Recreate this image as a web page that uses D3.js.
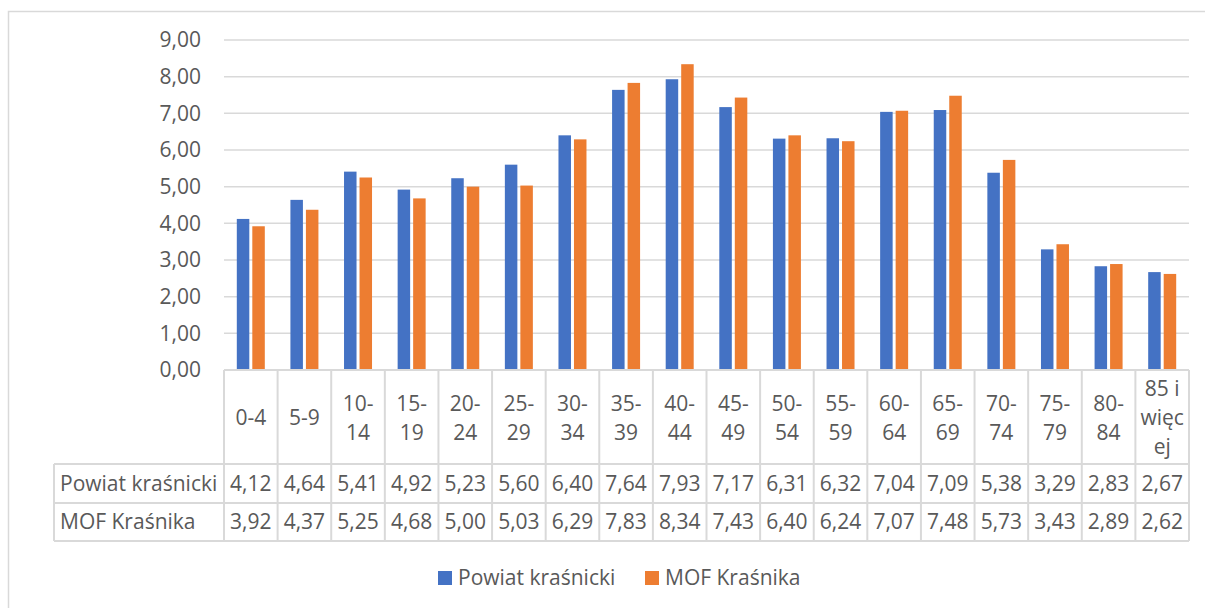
<!DOCTYPE html>
<html>
<head>
<meta charset="utf-8">
<script src="https://cdn.jsdelivr.net/npm/d3@7"></script>
<style>
  body { margin: 0; background: #fff; }
  text { font-family: "Open Sans", "Noto Sans", sans-serif; fill: #595959; }
</style>
</head>
<body>
<div id="chart"></div>
<script>
// Width and height
var chart_width  = 1205;
var chart_height = 608;

// Data
var categories = ['0-4','5-9','10-14','15-19','20-24','25-29','30-34','35-39','40-44',
                  '45-49','50-54','55-59','60-64','65-69','70-74','75-79','80-84','85 i więcej'];
var powiat = [4.12,4.64,5.41,4.92,5.23,5.60,6.40,7.64,7.93,7.17,6.31,6.32,7.04,7.09,5.38,3.29,2.83,2.67];
var mof    = [3.92,4.37,5.25,4.68,5.00,5.03,6.29,7.83,8.34,7.43,6.40,6.24,7.07,7.48,5.73,3.43,2.89,2.62];
var series_names = ['Powiat kraśnicki', 'MOF Kraśnika'];
var y_ticks = [0,1,2,3,4,5,6,7,8,9];

var colors = ['#4472C4', '#ED7D31'];
var grid_color = '#D9D9D9';

var plot = {left: 224, right: 1189, top: 40, bottom: 370};
var row_h = [94, 39, 38];   // header, row 1, row 2
var label_left = 54;

var fmt = function(v){ return d3.format('.2f')(v).replace('.', ','); };

var x = d3.scaleBand()
    .domain(categories)
    .range([plot.left, plot.right]);

var y = d3.scaleLinear()
    .domain([0, 9])
    .range([plot.bottom, plot.top]);

// Create SVG
var svg = d3.select('#chart')
    .append('svg')
    .attr('width', chart_width)
    .attr('height', chart_height);

// chart border
svg.append('rect')
    .attr('x', 8.5).attr('y', 11.5)
    .attr('width', 1220).attr('height', 620)
    .attr('fill', 'none')
    .attr('stroke', grid_color)
    .attr('stroke-width', 1.5);

// gridlines
svg.selectAll('line.grid')
    .data(y_ticks.filter(function(d){ return d > 0; }))
    .enter()
    .append('line')
    .attr('class', 'grid')
    .attr('x1', plot.left).attr('x2', plot.right)
    .attr('y1', function(d){ return y(d); })
    .attr('y2', function(d){ return y(d); })
    .attr('stroke', grid_color)
    .attr('stroke-width', 1.5);

// y labels
svg.selectAll('text.ytick')
    .data(y_ticks)
    .enter()
    .append('text')
    .attr('class', 'ytick')
    .attr('x', 201)
    .attr('y', function(d){ return y(d); })
    .attr('dy', '0.35em')
    .attr('text-anchor', 'end')
    .style('font-size', '21px')
    .text(fmt);

// bars
var bar_w = 12.5;
var all_series = [powiat, mof];
all_series.forEach(function(vals, si){
    svg.append('g')
        .selectAll('rect')
        .data(vals)
        .enter()
        .append('rect')
        .attr('x', function(d, i){
            var c = x(categories[i]) + x.bandwidth() / 2;
            return si === 0 ? c - 14 : c + 1.5;
        })
        .attr('y', function(d){ return y(d); })
        .attr('width', bar_w)
        .attr('height', function(d){ return y(0) - y(d); })
        .attr('fill', colors[si]);
});

// data table
var t0 = plot.bottom;
var t1 = t0 + row_h[0];
var t2 = t1 + row_h[1];
var t3 = t2 + row_h[2];

var table = svg.append('g');
var hl = [[plot.left, t0], [label_left, t1], [label_left, t2], [label_left, t3]];
hl.forEach(function(h){
    table.append('line')
        .attr('x1', h[0]).attr('x2', plot.right)
        .attr('y1', h[1]).attr('y2', h[1])
        .attr('stroke', grid_color).attr('stroke-width', 2);
});
var col_edges = categories.map(function(c){ return x(c); }).concat([plot.right]);
table.selectAll('line.v')
    .data(col_edges)
    .enter()
    .append('line')
    .attr('x1', function(d){ return d; })
    .attr('x2', function(d){ return d; })
    .attr('y1', t0).attr('y2', t3)
    .attr('stroke', grid_color).attr('stroke-width', 2);
table.append('line')
    .attr('x1', label_left).attr('x2', label_left)
    .attr('y1', t1).attr('y2', t3)
    .attr('stroke', grid_color).attr('stroke-width', 2);

// header labels, wrapped to the cell width
var max_w = x.bandwidth() - 6;
var header = table.selectAll('text.head')
    .data(categories)
    .enter()
    .append('text')
    .attr('class', 'head')
    .attr('text-anchor', 'middle')
    .style('font-size', '21px');

header.each(function(d){
    var node = d3.select(this);
    var measure = function(s){
        node.text(s);
        return node.node().getComputedTextLength();
    };
    var tokens = d.match(/[^ -]+[ -]?/g);
    var lines = [];
    var cur = '';
    tokens.forEach(function(tok){
        if (measure((cur + tok).trim()) <= max_w) {
            cur += tok;
        } else {
            if (cur) lines.push(cur.trim());
            cur = '';
            // split long token by characters
            var chars = tok.split('');
            chars.forEach(function(ch){
                if (measure((cur + ch).trim()) <= max_w) cur += ch;
                else { lines.push(cur.trim()); cur = ch; }
            });
        }
    });
    if (cur.trim()) lines.push(cur.trim());
    node.text(null);
    var cx = x(d) + x.bandwidth() / 2;
    var lh = 29;
    var cy = (t0 + t1) / 2 + 1;
    lines.forEach(function(l, i){
        node.append('tspan')
            .attr('x', cx)
            .attr('y', cy + (i - (lines.length - 1) / 2) * lh)
            .attr('dy', '0.35em')
            .text(l);
    });
});

// value rows
all_series.forEach(function(vals, si){
    var cy = si === 0 ? (t1 + t2) / 2 : (t2 + t3) / 2;
    table.append('text')
        .attr('x', 60)
        .attr('y', cy)
        .attr('dy', '0.35em')
        .style('font-size', '21px')
        .text(series_names[si]);
    table.selectAll('text.v' + si)
        .data(vals)
        .enter()
        .append('text')
        .attr('class', 'v' + si)
        .attr('x', function(d, i){ return x(categories[i]) + x.bandwidth() / 2; })
        .attr('y', cy)
        .attr('dy', '0.35em')
        .attr('text-anchor', 'middle')
        .style('font-size', '21px')
        .text(fmt);
});

// legend
var legend_x = [438, 645];
series_names.forEach(function(name, si){
    var g = svg.append('g')
        .attr('transform', 'translate(' + legend_x[si] + ',571)');
    g.append('rect')
        .attr('width', 14).attr('height', 14)
        .attr('fill', colors[si]);
    g.append('text')
        .attr('x', 20)
        .attr('y', 7)
        .attr('dy', '0.35em')
        .style('font-size', '21px')
        .text(name);
});
</script>
</body>
</html>
